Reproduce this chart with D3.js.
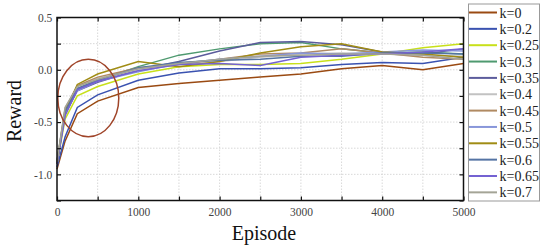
<!DOCTYPE html>
<html><head><meta charset="utf-8">
<script src="https://cdn.jsdelivr.net/npm/d3@7"></script>
<style>body{margin:0;background:#fff}svg{display:block}</style>
</head><body><svg id="c" width="550" height="251"></svg>
<script>
const episodes = [0, 100, 250, 500, 1000, 1500, 2000, 2500, 3000, 3500, 4000, 4500, 5000];
const seriesNames = ["k=0","k=0.2","k=0.25","k=0.3","k=0.35","k=0.4","k=0.45","k=0.5","k=0.55","k=0.6","k=0.65","k=0.7"];
const seriesColors = ["#9a4a12","#3a52b0","#c8e01a","#4f9a70","#5c5c9c","#c2c2c2","#b08a62","#8896da","#a08c14","#5574a4","#7462d2","#a4a496"];
const k0   = [-0.95,-0.68,-0.42,-0.30,-0.17,-0.13,-0.10,-0.07,-0.04, 0.01, 0.04, 0.00, 0.06];
const k020 = [-0.93,-0.64,-0.36,-0.24,-0.10,-0.03, 0.01, 0.01, 0.02, 0.05, 0.07, 0.06, 0.12];
const k025 = [-0.90,-0.47,-0.25,-0.16,-0.04, 0.03, 0.05, 0.05, 0.06, 0.10, 0.15, 0.21, 0.25];
const k030 = [-0.88,-0.38,-0.18,-0.10, 0.03, 0.14, 0.20, 0.25, 0.26, 0.20, 0.16, 0.17, 0.15];
const k035 = [-0.88,-0.42,-0.20,-0.12, 0.00, 0.08, 0.18, 0.26, 0.27, 0.24, 0.17, 0.15, 0.20];
const k040 = [-0.87,-0.36,-0.16,-0.08, 0.00, 0.05, 0.08, 0.12, 0.15, 0.16, 0.15, 0.14, 0.13];
const k045 = [-0.88,-0.38,-0.15,-0.07, 0.02, 0.05, 0.10, 0.15, 0.16, 0.20, 0.16, 0.12, 0.10];
const k050 = [-0.90,-0.42,-0.20,-0.11,-0.02, 0.06, 0.10, 0.13, 0.16, 0.15, 0.17, 0.19, 0.18];
const k055 = [-0.90,-0.40,-0.14,-0.04, 0.08, 0.03, 0.08, 0.16, 0.22, 0.25, 0.17, 0.15, 0.12];
const k060 = [-0.89,-0.40,-0.18,-0.10, 0.02, 0.07, 0.09, 0.10, 0.13, 0.13, 0.16, 0.16, 0.15];
const k065 = [-0.90,-0.44,-0.19,-0.11,-0.01, 0.05, 0.06, 0.04, 0.12, 0.14, 0.15, 0.17, 0.20];
const k070 = [-0.88,-0.36,-0.16,-0.09, 0.01, 0.06, 0.10, 0.13, 0.14, 0.15, 0.15, 0.14, 0.10];
const seriesValues = [k0,k020,k025,k030,k035,k040,k045,k050,k055,k060,k065,k070];
const xTicks = [0,1000,2000,3000,4000,5000];
const yTicks = [0.5,0.0,-0.5,-1.0];
const xLabel = "Episode", yLabel = "Reward";

const svg = d3.select("#c");
const L = 57, R = 463.5, T = 17.5, B = 200.5;
const x = d3.scaleLinear().domain([0,5000]).range([L,R]);
const y = d3.scaleLinear().domain([-1.25,0.5]).range([B,T]);
const font = "Liberation Serif, Times New Roman, serif";

// grid
const gx = d3.range(500,5000,500), gy = d3.range(-1.0,0.5,0.25);
svg.append("g").selectAll("line").data(gx).join("line")
  .attr("x1",d=>x(d)).attr("x2",d=>x(d)).attr("y1",T).attr("y2",B)
  .attr("stroke","#cfcfcf").attr("stroke-width",0.8).attr("stroke-dasharray","1.5,1.5");
svg.append("g").selectAll("line").data(gy).join("line")
  .attr("y1",d=>y(d)).attr("y2",d=>y(d)).attr("x1",L).attr("x2",R)
  .attr("stroke","#cfcfcf").attr("stroke-width",0.8).attr("stroke-dasharray","1.5,1.5");

// lines
const line = d3.line().x((d,i)=>x(episodes[i])).y(d=>y(d));
svg.append("g").selectAll("path").data(seriesValues).join("path")
  .attr("d",d=>line(d)).attr("fill","none")
  .attr("stroke",(d,i)=>seriesColors[i]).attr("stroke-width",1.5);

// ellipse annotation
svg.append("ellipse").attr("cx",x(385)).attr("cy",y(-0.27))
  .attr("rx",x(375)-x(0)).attr("ry",y(-0.64)-y(-0.27))
  .attr("fill","none").attr("stroke","#a0452a").attr("stroke-width",1.5);

// axes
const minorX = d3.range(0,5001,500), minorY = d3.range(-1.25,0.51,0.25);
const axB = svg.append("g").attr("transform",`translate(0,${B})`)
  .call(d3.axisBottom(x).tickValues(minorX).tickSize(-4).tickFormat(d=>xTicks.includes(d)?d:""));
const axT = svg.append("g").attr("transform",`translate(0,${T})`)
  .call(d3.axisTop(x).tickValues(minorX).tickSize(-4).tickFormat(""));
const axL = svg.append("g").attr("transform",`translate(${L},0)`)
  .call(d3.axisLeft(y).tickValues(minorY).tickSize(-4).tickFormat(d=>yTicks.some(t=>Math.abs(t-d)<1e-9)?d3.format(".1f")(d).replace("−","-"):""));
const axR = svg.append("g").attr("transform",`translate(${R},0)`)
  .call(d3.axisRight(y).tickValues(minorY).tickSize(-4).tickFormat(""));
[axB,axT,axL,axR].forEach(a=>{
  a.attr("font-family",null).style("font-family",font);
  a.select(".domain").remove();
  a.selectAll(".tick line").attr("stroke","#111").attr("stroke-width",1.2);
  a.selectAll("text").style("font-family",font).style("font-size","11.5px").attr("fill","#444");
});
axB.selectAll("text").attr("dy","1.05em");
axL.selectAll("text").attr("dx","-0.15em");
svg.append("rect").attr("x",L).attr("y",T).attr("width",R-L).attr("height",B-T)
  .attr("fill","none").attr("stroke","#111").attr("stroke-width",1.5);

// axis titles
svg.append("text").attr("x",264).attr("y",240).attr("text-anchor","middle")
  .style("font-family",font).style("font-size","20px").attr("fill","#111").text(xLabel);
svg.append("text").attr("transform",`translate(21,${(T+B)/2+2}) rotate(-90)`).attr("text-anchor","middle")
  .style("font-family",font).style("font-size","20px").attr("fill","#111").text(yLabel);

// legend
const lg = svg.append("g");
lg.append("rect").attr("x",468.5).attr("y",4).attr("width",71).attr("height",197)
  .attr("fill","#fff").attr("stroke","#999").attr("stroke-width",1);
const ly = i => 12.5 + i*16.35;
lg.selectAll("line").data(seriesNames).join("line")
  .attr("x1",469).attr("x2",497).attr("y1",(d,i)=>ly(i)).attr("y2",(d,i)=>ly(i))
  .attr("stroke",(d,i)=>seriesColors[i]).attr("stroke-width",2);
lg.selectAll("text").data(seriesNames).join("text")
  .attr("x",499.5).attr("y",(d,i)=>ly(i)+5).style("font-family",font).style("font-size","14px")
  .attr("fill","#222").text(d=>d);
</script></body></html>
